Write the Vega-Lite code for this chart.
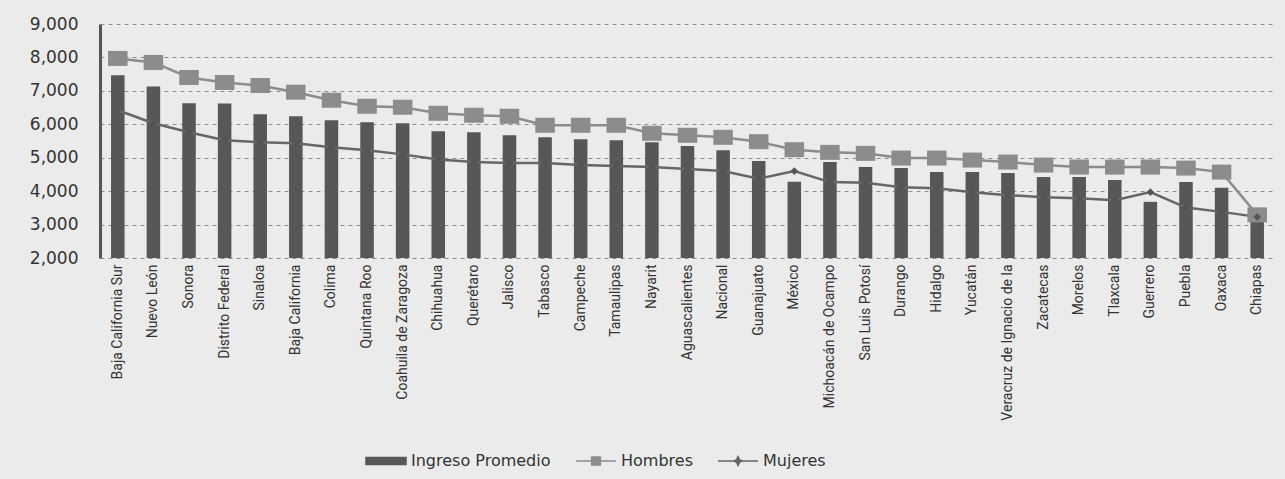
{
  "$schema": "https://vega.github.io/schema/vega-lite/v6.json",
  "width": 1175,
  "height": 234,
  "autosize": {"type": "none"},
  "padding": {"left": 100, "top": 24, "right": 10, "bottom": 221},
  "background": "#ebebeb",
  "data": {
    "values": [
      {"estado": "Baja California Sur", "ingreso": 7470, "hombres": 7970, "mujeres": 6420},
      {"estado": "Nuevo León", "ingreso": 7130, "hombres": 7850, "mujeres": 6030},
      {"estado": "Sonora", "ingreso": 6630, "hombres": 7400, "mujeres": 5760},
      {"estado": "Distrito Federal", "ingreso": 6620, "hombres": 7250, "mujeres": 5520},
      {"estado": "Sinaloa", "ingreso": 6300, "hombres": 7160, "mujeres": 5460},
      {"estado": "Baja California", "ingreso": 6240, "hombres": 6960, "mujeres": 5430},
      {"estado": "Colima", "ingreso": 6120, "hombres": 6720, "mujeres": 5310},
      {"estado": "Quintana Roo", "ingreso": 6060, "hombres": 6540, "mujeres": 5220},
      {"estado": "Coahuila de Zaragoza", "ingreso": 6030, "hombres": 6510, "mujeres": 5100},
      {"estado": "Chihuahua", "ingreso": 5790, "hombres": 6330, "mujeres": 4950},
      {"estado": "Querétaro", "ingreso": 5760, "hombres": 6270, "mujeres": 4870},
      {"estado": "Jalisco", "ingreso": 5670, "hombres": 6240, "mujeres": 4840},
      {"estado": "Tabasco", "ingreso": 5610, "hombres": 5970, "mujeres": 4840},
      {"estado": "Campeche", "ingreso": 5550, "hombres": 5970, "mujeres": 4780},
      {"estado": "Tamaulipas", "ingreso": 5520, "hombres": 5970, "mujeres": 4750},
      {"estado": "Nayarit", "ingreso": 5460, "hombres": 5730, "mujeres": 4720},
      {"estado": "Aguascalientes", "ingreso": 5350, "hombres": 5670, "mujeres": 4660},
      {"estado": "Nacional", "ingreso": 5220, "hombres": 5610, "mujeres": 4600},
      {"estado": "Guanajuato", "ingreso": 4900, "hombres": 5480, "mujeres": 4370},
      {"estado": "México", "ingreso": 4280, "hombres": 5240, "mujeres": 4600},
      {"estado": "Michoacán de Ocampo", "ingreso": 4870, "hombres": 5160, "mujeres": 4270},
      {"estado": "San Luis Potosí", "ingreso": 4720, "hombres": 5130, "mujeres": 4250},
      {"estado": "Durango", "ingreso": 4690, "hombres": 4990, "mujeres": 4120},
      {"estado": "Hidalgo", "ingreso": 4570, "hombres": 4990, "mujeres": 4090},
      {"estado": "Yucatán", "ingreso": 4570, "hombres": 4930, "mujeres": 3970},
      {"estado": "Veracruz de Ignacio de la", "ingreso": 4540, "hombres": 4870, "mujeres": 3880},
      {"estado": "Zacatecas", "ingreso": 4420, "hombres": 4780, "mujeres": 3820},
      {"estado": "Morelos", "ingreso": 4420, "hombres": 4720, "mujeres": 3790},
      {"estado": "Tlaxcala", "ingreso": 4330, "hombres": 4720, "mujeres": 3730},
      {"estado": "Guerrero", "ingreso": 3680, "hombres": 4720, "mujeres": 3970},
      {"estado": "Puebla", "ingreso": 4270, "hombres": 4690, "mujeres": 3510},
      {"estado": "Oaxaca", "ingreso": 4100, "hombres": 4570, "mujeres": 3380},
      {"estado": "Chiapas", "ingreso": 3330, "hombres": 3290, "mujeres": 3230}
    ]
  },
  "config": {
    "view": {"stroke": null},
    "axis": {"labelColor": "#333", "titleColor": "#333"},
    "axisY": {
      "values": [2000, 3000, 4000, 5000, 6000, 7000, 8000, 9000],
      "format": ",.0f", "labelFont": "DejaVu Sans", "labelFontSize": 17, "labelPadding": 22,
      "ticks": false, "domain": true, "domainColor": "#555", "domainWidth": 3,
      "grid": true, "gridDash": [4, 4], "gridColor": "#666", "gridWidth": 1, "gridOpacity": 0.7,
      "title": null
    }
  },
  "encoding": {
    "x": {
      "field": "estado", "type": "nominal", "sort": null, "title": null,
      "scale": {"paddingInner": 0.62, "paddingOuter": 0.31},
      "axis": {
        "labelAngle": -90, "labelFont": "Roboto", "labelFontSize": 14,
        "labelPadding": 6, "ticks": false, "domain": false, "labelColor": "#333",
        "labelOverlap": false, "labelLimit": 400
      }
    }
  },
  "layer": [
    {
      "mark": {"type": "bar", "color": "#575757", "clip": true},
      "encoding": {
        "y": {
          "field": "ingreso", "type": "quantitative", "title": null,
          "scale": {"domain": [2000, 9000], "nice": false, "zero": false}
        },
        "y2": {"datum": 2000},
        "color": {
          "datum": "Ingreso Promedio",
          "scale": {"domain": ["Ingreso Promedio", "Hombres", "Mujeres"], "range": ["#575757", "#8c8c8c", "#666666"]},
          "legend": {
            "title": null, "orient": "none", "direction": "horizontal", "legendX": 265, "legendY": 416,
            "labelFont": "DejaVu Sans", "labelFontSize": 16, "labelColor": "#333",
            "symbolSize": 1600, "labelOffset": 4, "columnPadding": 22,
            "encode": {
              "symbols": {
                "update": {
                  "shape": {"signal": "datum.value === 'Ingreso Promedio' ? 'M-1,-0.17H1V0.17H-1Z' : datum.value === 'Hombres' ? 'M-1,0H-0.22M0.22,0H1M-0.22,-0.2H0.22V0.2H-0.22Z' : 'M-1,0H1M0,-0.22L0.07,-0.07L0.22,0L0.07,0.07L0,0.22L-0.07,0.07L-0.22,0L-0.07,-0.07Z'"},
                  "fill": {"scale": "color", "field": "value"},
                  "stroke": {"scale": "color", "field": "value"},
                  "strokeWidth": {"value": 1.5},
                  "opacity": {"value": 1}
                }
              }
            }
          }
        }
      }
    },
    {
      "mark": {"type": "line", "strokeWidth": 2.5},
      "encoding": {
        "y": {"field": "hombres", "type": "quantitative", "title": null, "scale": {"domain": [2000, 9000], "nice": false, "zero": false}},
        "color": {"datum": "Hombres"}
      }
    },
    {
      "mark": {"type": "line", "strokeWidth": 2.5},
      "encoding": {
        "y": {"field": "mujeres", "type": "quantitative", "title": null, "scale": {"domain": [2000, 9000], "nice": false, "zero": false}},
        "color": {"datum": "Mujeres"}
      }
    },
    {
      "mark": {"type": "point", "filled": true, "opacity": 1, "size": 225, "shape": "M-1.3,-1H1.3V1H-1.3Z"},
      "encoding": {
        "y": {"field": "hombres", "type": "quantitative", "title": null, "scale": {"domain": [2000, 9000], "nice": false, "zero": false}},
        "color": {"datum": "Hombres"}
      }
    },
    {
      "mark": {"type": "point", "filled": true, "opacity": 1, "size": 60, "shape": "diamond", "color": "#555"},
      "encoding": {
        "y": {"field": "mujeres", "type": "quantitative", "title": null, "scale": {"domain": [2000, 9000], "nice": false, "zero": false}}
      }
    }
  ]
}
